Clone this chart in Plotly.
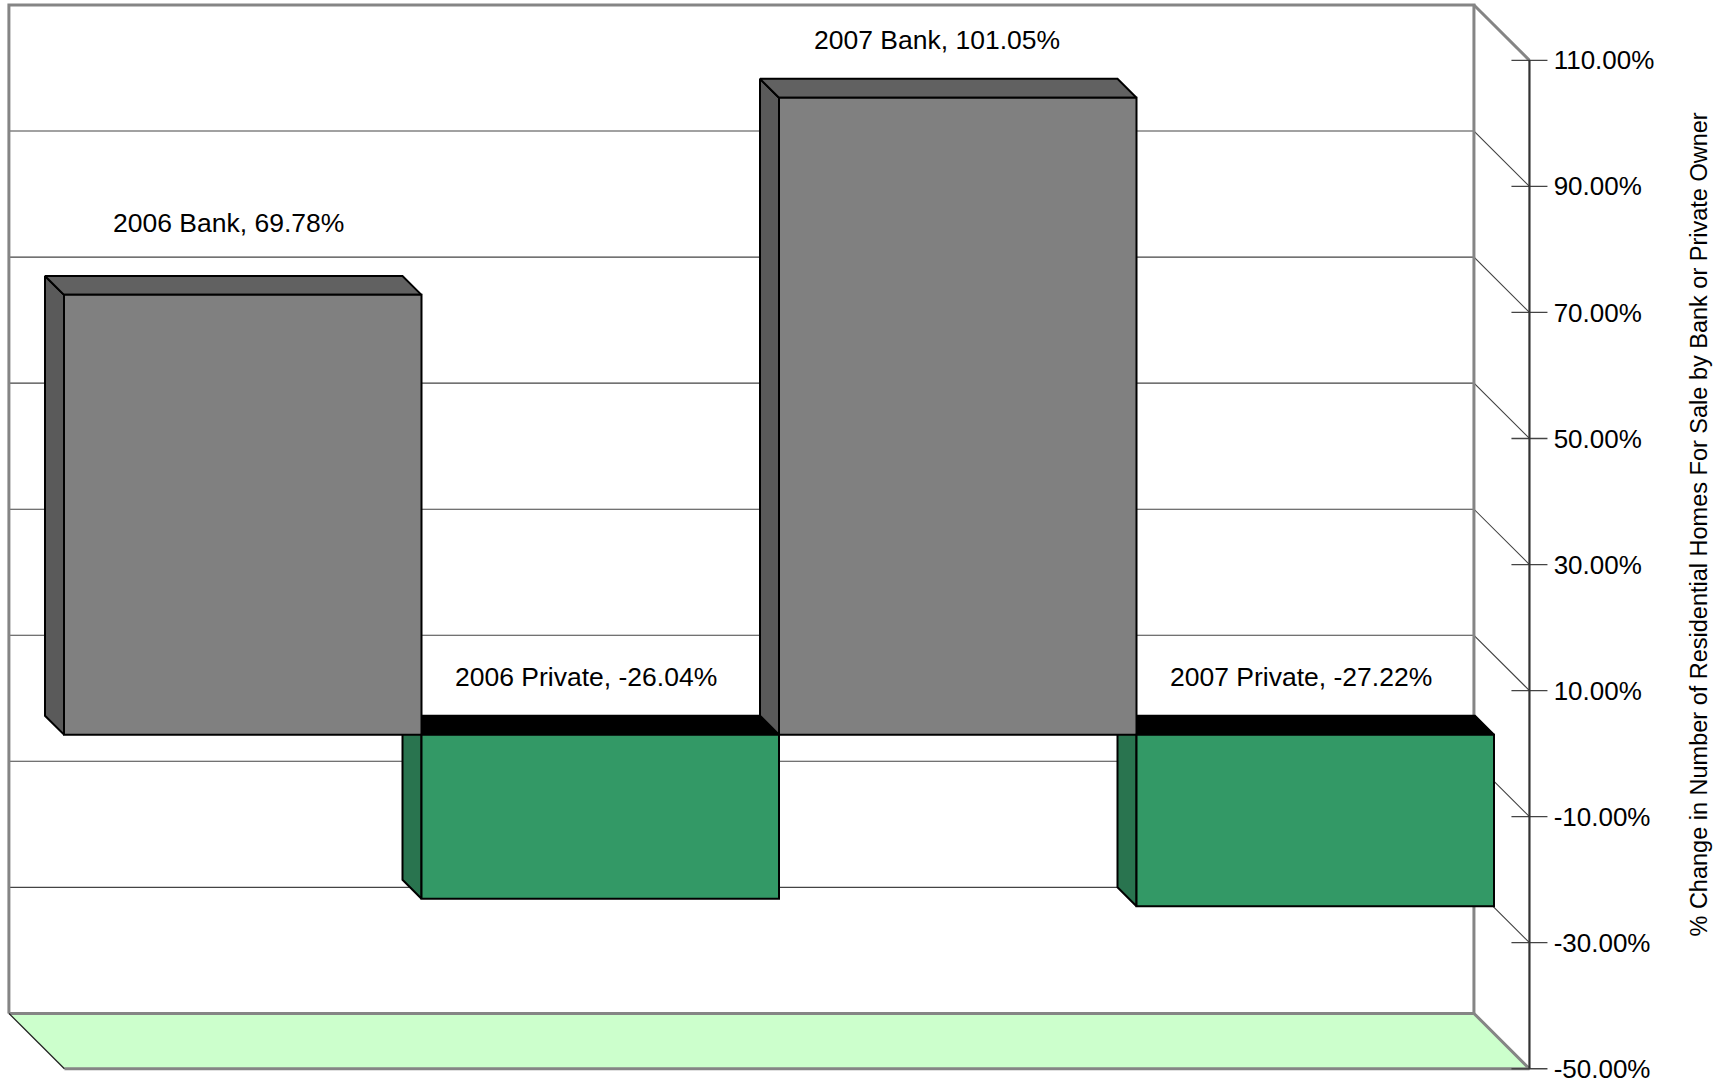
import plotly.graph_objects as go

# ---------------- data ----------------
categories = ["2006 Bank", "2006 Private", "2007 Bank", "2007 Private"]
values = [69.78, -26.04, 101.05, -27.22]
owner_type = ["Bank", "Private", "Bank", "Private"]
tick_values = [-50, -30, -10, 10, 30, 50, 70, 90, 110]
axis_title = "% Change in Number of Residential Homes For Sale by Bank or Private Owner"

# ---------------- geometry / style ----------------
W, H = 1727, 1084
X0 = 64.0        # px of category edge 0 (bar front plane)
BW = 357.5       # px per category
Y0 = 736.7       # px of 0 % (bar front plane)
S = 6.32         # px per percentage point
D_BAR = 19.0     # bar depth (px, oblique)
D_BACK = 36.5    # back wall depth
D_FRONT = -19.0  # front (axis) plane depth
X_MIN, X_MAX = -0.052, 4.046
V_MIN, V_MAX = tick_values[0], tick_values[-1]

# label placement (px): common offset plus small per-label nudges
LABEL_LIFT = 58
LABEL_SHIFT = -14
label_nudge_x = [0, 0, -7, 0]
label_nudge_y = [14, 0, 0, 0]

FRONT = {"Bank": "#808080", "Private": "#339966"}
TOP = {"Bank": "#616161", "Private": "#000000"}
SIDE = {"Bank": "#5a5a5a", "Private": "#29744f"}
WALL = "#858585"
GRID = "#444444"
FONT = "Liberation Sans, Arial, sans-serif"


def P(x, v, d):
    """oblique projection: depth d (px, positive = back) -> data coords"""
    return x - d / BW, v + d / S


def path(points):
    xs, ys = [], []
    for pt in points:
        if pt is None:
            xs.append(None)
            ys.append(None)
        else:
            px, py = P(*pt)
            xs.append(px)
            ys.append(py)
    return xs, ys


fig = go.Figure()

# floor
fx, fy = path([(X_MIN, V_MIN, D_BACK), (X_MAX, V_MIN, D_BACK), (X_MAX, V_MIN, D_FRONT),
               (X_MIN, V_MIN, D_FRONT), (X_MIN, V_MIN, D_BACK)])
fig.add_trace(go.Scatter(x=fx, y=fy, fill="toself", fillcolor="#CCFFCC", mode="lines",
                         line=dict(width=0), hoverinfo="skip"))

# gridlines on back wall and right wall
pts = []
for t in tick_values[1:-1]:
    pts += [(X_MIN, t, D_BACK), (X_MAX, t, D_BACK), (X_MAX, t, D_FRONT), None]
gx, gy = path(pts)
fig.add_trace(go.Scatter(x=gx, y=gy, mode="lines", line=dict(color=GRID, width=1.1),
                         hoverinfo="skip"))

# wall borders
wx, wy = path([(X_MIN, V_MIN, D_BACK), (X_MIN, V_MAX, D_BACK), (X_MAX, V_MAX, D_BACK),
               (X_MAX, V_MIN, D_BACK), None,
               (X_MIN, V_MIN, D_BACK), (X_MAX, V_MIN, D_BACK), (X_MAX, V_MIN, D_FRONT),
               (X_MIN, V_MIN, D_FRONT), None,
               (X_MAX, V_MAX, D_BACK), (X_MAX, V_MAX, D_FRONT)])
fig.add_trace(go.Scatter(x=wx, y=wy, mode="lines", line=dict(color=WALL, width=3),
                         hoverinfo="skip"))
lx, ly = path([(X_MIN, V_MIN, D_BACK), (X_MIN, V_MIN, D_FRONT)])
fig.add_trace(go.Scatter(x=lx, y=ly, mode="lines", line=dict(color="#222222", width=1.3),
                         hoverinfo="skip"))

# bar side (left) and top faces
for i, (v, kind) in enumerate(zip(values, owner_type)):
    lo, hi = min(v, 0), max(v, 0)
    sx, sy = path([(i, lo, 0), (i, hi, 0), (i, hi, D_BAR), (i, lo, D_BAR), (i, lo, 0)])
    fig.add_trace(go.Scatter(x=sx, y=sy, fill="toself", fillcolor=SIDE[kind], mode="lines",
                             line=dict(color="black", width=2), hoverinfo="skip"))
    tx, ty = path([(i, hi, 0), (i + 1, hi, 0), (i + 1, hi, D_BAR), (i, hi, D_BAR), (i, hi, 0)])
    fig.add_trace(go.Scatter(x=tx, y=ty, fill="toself", fillcolor=TOP[kind], mode="lines",
                             line=dict(color="black", width=2), hoverinfo="skip"))

# bar front faces
fig.add_trace(go.Bar(
    x=[i + 0.5 for i in range(len(values))], y=values, width=1,
    marker=dict(color=[FRONT[k] for k in owner_type], line=dict(color="black", width=2)),
    xaxis="x", yaxis="y2", hovertext=categories, hoverinfo="text+y"))

# front value axis line + crossing ticks (front plane values on y3)
ax_x = X_MAX - D_FRONT / BW
tk_x, tk_y = [], []
for t in tick_values:
    tk_x += [ax_x - 18 / BW, ax_x + 18 / BW, None]
    tk_y += [t, t, None]
fig.add_trace(go.Scatter(x=tk_x, y=tk_y, mode="lines", line=dict(color="#444444", width=1.3),
                         xaxis="x", yaxis="y3", hoverinfo="skip"))
fig.add_trace(go.Scatter(x=[ax_x, ax_x], y=[V_MIN, V_MAX], mode="lines",
                         line=dict(color="#333333", width=2.2),
                         xaxis="x", yaxis="y3", hoverinfo="skip"))

# data labels
annotations = []
for i, (c, v) in enumerate(zip(categories, values)):
    annotations.append(dict(
        x=i + 0.5 + (LABEL_SHIFT + label_nudge_x[i]) / BW,
        y=max(v, 0) + (LABEL_LIFT + label_nudge_y[i]) / S, xref="x", yref="y",
        text=f"{c}, {v:.2f}%", showarrow=False, xanchor="center", yanchor="middle",
        font=dict(family=FONT, size=26.5, color="black")))
annotations.append(dict(
    x=1699 / W, y=1 - 526 / H, xref="paper", yref="paper", text=axis_title,
    textangle=-90, showarrow=False, xanchor="center", yanchor="middle",
    font=dict(family=FONT, size=23.5, color="black")))

yr = [(Y0 - H) / S, Y0 / S]
fig.update_layout(
    width=W, height=H, margin=dict(l=0, r=0, t=0, b=0, pad=0),
    paper_bgcolor="white", plot_bgcolor="white", showlegend=False,
    xaxis=dict(range=[(0 - X0) / BW, (W - X0) / BW], visible=False, fixedrange=True),
    yaxis=dict(range=yr, visible=False, fixedrange=True),
    yaxis2=dict(range=yr, visible=False, overlaying="y", fixedrange=True),
    yaxis3=dict(range=[yr[0] - D_FRONT / S, yr[1] - D_FRONT / S], overlaying="y",
                anchor="free", position=(X0 + X_MAX * BW - D_FRONT) / W, side="right",
                tickvals=tick_values, ticktext=[f"{t:.2f}%" for t in tick_values],
                ticks="outside", ticklen=18, tickcolor="rgba(0,0,0,0)",
                ticklabeloverflow="allow",
                showline=False, showgrid=False, zeroline=False,
                tickfont=dict(family=FONT, size=26, color="black"), fixedrange=True),
    annotations=annotations,
)

# the page's default 8px body margin would shift the chart; remove it
fig.write_html("out.html", config={"displayModeBar": False},
               post_script="document.body.style.margin='0px';")
